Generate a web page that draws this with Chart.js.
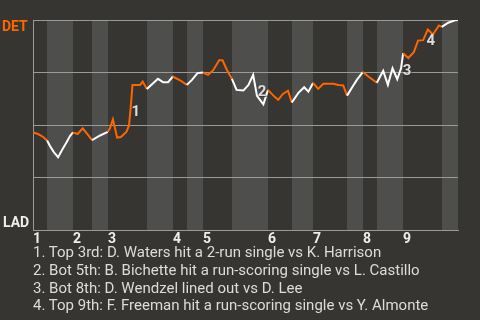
<!DOCTYPE html>
<html>
<head>
<meta charset="utf-8">
<script src="https://cdn.jsdelivr.net/npm/chart.js@4"></script>
<style>
  html, body { margin: 0; padding: 0; background: #363531; }
  #wrap { width: 480px; height: 320px; position: relative; overflow: hidden; }
  #notes {
    position: absolute; left: 33px; top: 244px; margin: 0; padding: 0;
    list-style: none; font: 15px Roboto, sans-serif; line-height: 17.8px; color: #dcdcdc;
    white-space: nowrap;
  }
</style>
</head>
<body>
<div id="wrap">
  <canvas id="wpChart" width="480" height="320"></canvas>
  <ul id="notes"></ul>
</div>
<script>
const awayTeam = "DET";
const homeTeam = "LAD";

// game progress (0-100) of each play
const playX = [0, 1.2, 2.4, 3.3, 4.0, 4.9, 5.9, 6.8, 7.8, 8.7,
  9.4, 10.5, 11.7, 12.8, 13.9, 15.8, 17.6, 18.1, 18.8, 19.8,
  20.7, 22.0, 22.6, 23.1, 23.4, 25.2, 25.8, 26.8, 28.0, 29.4,
  30.6, 31.8, 32.9, 34.6, 36.2, 37.4, 38.7, 40.0, 41.2, 42.4,
  43.8, 44.6, 45.6, 46.8, 47.9, 49.5, 50.7, 51.8, 52.7, 54.2,
  55.3, 56.5, 57.7, 58.8, 60.0, 60.9, 62.4, 63.8, 64.8, 65.9,
  67.1, 68.3, 70.7, 71.8, 73.0, 73.9, 75.0, 76.2, 77.6, 78.9,
  80.9, 82.4, 83.5, 84.6, 85.7, 86.6, 87.1, 88.3, 89.6, 90.6,
  91.8, 92.9, 94.1, 95.5, 96.2, 97.7, 99.3, 100];

// DET win probability (%) after each play
const detWinPct = [46.4, 45.7, 44.3, 42.6, 40.0, 37.1, 34.7, 38.0, 41.4, 44.7,
  46.5, 45.7, 48.4, 45.7, 42.8, 45.0, 46.7, 48.4, 52.7, 44.0,
  44.3, 46.8, 49.8, 61.0, 69.1, 69.1, 70.7, 67.1, 69.4, 72.0,
  70.4, 70.4, 73.1, 71.3, 69.1, 71.5, 74.7, 75.0, 73.9, 76.1,
  80.8, 80.8, 76.3, 72.0, 66.7, 66.4, 69.1, 73.9, 63.9, 59.8,
  66.7, 64.1, 62.0, 64.8, 66.3, 60.7, 65.2, 68.0, 65.9, 70.0,
  67.2, 69.6, 69.6, 69.1, 68.8, 64.0, 67.6, 71.5, 75.2, 73.1,
  70.1, 75.8, 69.1, 77.0, 71.8, 77.0, 84.2, 81.9, 84.7, 90.2,
  90.4, 95.5, 93.1, 97.4, 96.7, 98.7, 99.9, 100];

// start of each half inning (top 1st, bot 1st, top 2nd ...), last = end of game
const halfInningStart = [0, 3.3, 9.4, 13.9, 17.6, 26.8, 32.9, 36.2, 40.0, 46.8,
  55.3, 60.9, 65.9, 73.9, 77.6, 80.9, 87.1, 96.2, 100];
const inningLabels = ["1", "2", "3", "4", "5", "6", "7", "8", "9"];

// key plays: number shown on chart, where it sits (progress, win %), and caption
const keyPlayNums = ["1", "2", "3", "4"];
const keyPlayX = [24.2, 53.9, 88.0, 93.6];
const keyPlayY = [56.2, 65.8, 75.4, 90.0];
const keyPlayNotes = [
  "Top 3rd: D. Waters hit a 2-run single vs K. Harrison",
  "Bot 5th: B. Bichette hit a run-scoring single vs L. Castillo",
  "Bot 8th: D. Wendzel lined out vs D. Lee",
  "Top 9th: F. Freeman hit a run-scoring single vs Y. Almonte"
];

const BG = "#363531";
const BAND = "#4e4e4c";
const ORANGE = "#ff6600";
const GRID = "#9a9a9a";

function halfIndex(x) {
  for (let i = 0; i < halfInningStart.length - 1; i++) {
    if (x >= halfInningStart[i] && x < halfInningStart[i + 1]) return i;
  }
  return halfInningStart.length - 2;
}

const notes = document.getElementById("notes");
keyPlayNotes.forEach((t, i) => {
  const li = document.createElement("li");
  li.textContent = keyPlayNums[i] + ". " + t;
  notes.appendChild(li);
});

const backdrop = {
  id: "backdrop",
  beforeDraw(chart) {
    const { ctx, chartArea, scales } = chart;
    ctx.save();
    ctx.fillStyle = BG;
    ctx.fillRect(0, 0, chart.width, chart.height);
    // bottom halves get the lighter band
    ctx.fillStyle = BAND;
    for (let i = 1; i < halfInningStart.length - 1; i += 2) {
      const x0 = Math.round(scales.x.getPixelForValue(halfInningStart[i]));
      const x1 = Math.round(scales.x.getPixelForValue(halfInningStart[i + 1]));
      ctx.fillRect(x0, chartArea.top, x1 - x0, chartArea.bottom - chartArea.top);
    }
    ctx.restore();
  },
  afterDraw(chart) {
    const { ctx, chartArea, scales } = chart;
    ctx.save();
    ctx.font = "bold 14px Roboto";
    ctx.textAlign = "left";
    ctx.textBaseline = "alphabetic";
    ctx.fillStyle = ORANGE;
    ctx.fillText(awayTeam, 2, chartArea.top + 11);
    ctx.fillStyle = "#eeeeee";
    ctx.fillText(homeTeam, 3, chartArea.bottom - 3);

    // inning numbers
    inningLabels.forEach((lab, i) => {
      const x = scales.x.getPixelForValue(halfInningStart[i * 2]);
      ctx.fillText(lab, Math.round(x), chartArea.bottom + 13);
    });

    // key play markers
    ctx.font = "bold 15px Roboto";
    ctx.textAlign = "center";
    ctx.textBaseline = "middle";
    keyPlayNums.forEach((n, i) => {
      const x = scales.x.getPixelForValue(keyPlayX[i]);
      const y = scales.y.getPixelForValue(keyPlayY[i]);
      ctx.fillStyle = "rgba(40,40,40,0.6)";
      ctx.fillText(n, x + 1, y + 1);
      ctx.fillStyle = "#dddddd";
      ctx.fillText(n, x, y);
    });
    ctx.restore();
  }
};

new Chart(document.getElementById("wpChart"), {
  type: "line",
  data: {
    datasets: [{
      data: playX.map((x, i) => ({ x: x, y: detWinPct[i] })),
      borderWidth: 2,
      borderColor: ORANGE,
      pointRadius: 0,
      tension: 0,
      fill: false,
      segment: {
        borderColor: c => (halfIndex(c.p0.parsed.x) % 2 === 0 ? ORANGE : "#ffffff")
      }
    }]
  },
  options: {
    responsive: false,
    animation: false,
    layout: { padding: { left: 33, right: 22, top: 20, bottom: 90 } },
    plugins: { legend: { display: false }, tooltip: { enabled: false } },
    scales: {
      x: {
        type: "linear", min: 0, max: 100,
        grid: { display: false, drawTicks: false },
        border: { display: true, color: GRID, width: 1 },
        ticks: { display: false }
      },
      y: {
        min: 0, max: 100,
        grid: { color: GRID, lineWidth: 1, drawTicks: false },
        border: { display: true, color: GRID, width: 1 },
        ticks: { display: false, stepSize: 25 }
      }
    }
  },
  plugins: [backdrop]
});
</script>
</body>
</html>
